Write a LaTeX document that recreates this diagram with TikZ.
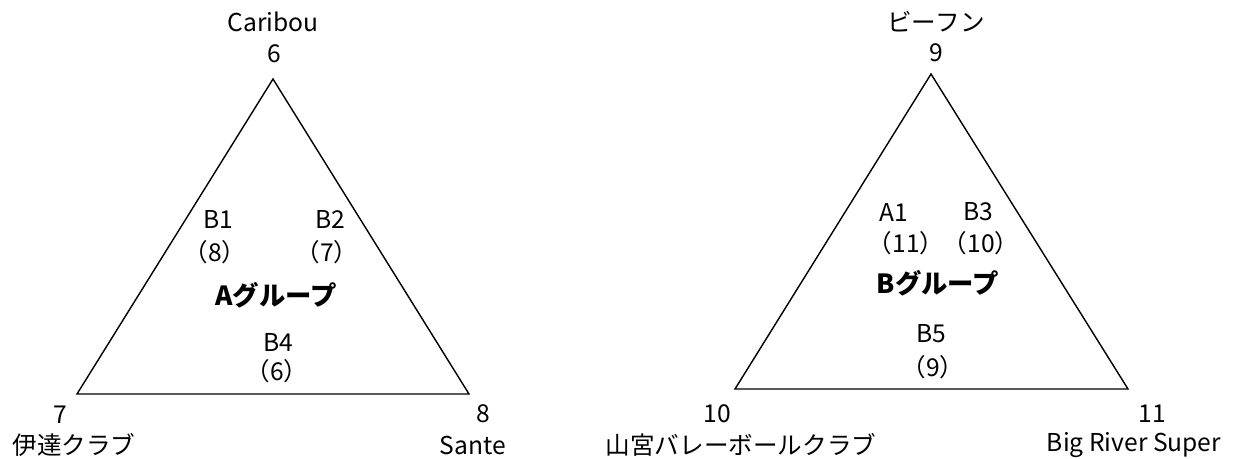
\documentclass[tikz,border=0pt]{standalone}
\usepackage{fontspec}
\setmainfont{Noto Sans CJK JP}
\begin{document}
\begin{tikzpicture}[x=0.02cm,y=-0.02cm,
    lbl/.style={font=\fontsize{14}{16}\selectfont,inner sep=0pt},
    grp/.style={font=\fontsize{15}{17}\selectfont\bfseries,inner sep=0pt},
    side/.style={line width=0.8pt,line join=miter}]
      \useasboundingbox (0,0) rectangle (1250,459);
      % A group
      \coordinate (atop) at (273,79);
      \coordinate (aleft) at (77,394);
      \coordinate (aright) at (469,394);
      \draw[side] (atop) -- (aleft) -- (aright) -- cycle;
      \node[lbl] (caribou) at (273,22) {Caribou};
      \node[lbl] (caribouno) at (274,54) {6};
      \node[lbl] (date) at (74,445) {伊達クラブ};
      \node[lbl] (dateno) at (60,415) {7};
      \node[lbl] (sante) at (473,445) {Sante};
      \node[lbl] (santeno) at (483,414) {8};
      \node[lbl] (bone) at (218,219) {B1};
      \node[lbl] (boneno) at (215,252) {（8）};
      \node[lbl] (btwo) at (330,219) {B2};
      \node[lbl] (btwono) at (327,252) {（7）};
      \node[grp] (agroup) at (276,295) {Aグループ};
      \node[lbl] (bfour) at (278,342) {B4};
      \node[lbl] (bfourno) at (277,371) {（6）};
      % B group
      \coordinate (btop) at (931,74);
      \coordinate (bleft) at (735,389);
      \coordinate (bright) at (1128,389);
      \draw[side] (btop) -- (bleft) -- (bright) -- cycle;
      \node[lbl] (beefun) at (936,22) {ビーフン};
      \node[lbl] (beefunno) at (936,53) {9};
      \node[lbl] (yamamiya) at (741,445) {山宮バレーボールクラブ};
      \node[lbl] (yamamiyano) at (717,414) {10};
      \node[lbl] (bigriver) at (1134,445) {Big River Super};
      \node[lbl] (bigriverno) at (1152,414) {11};
      \node[lbl] (aone) at (894,212) {A1};
      \node[lbl] (aoneno) at (906,243) {（11）};
      \node[lbl] (bthree) at (978,212) {B3};
      \node[lbl] (bthreeno) at (981,243) {（10）};
      \node[grp] (bgroup) at (938,283) {Bグループ};
      \node[lbl] (bfive) at (931,334) {B5};
      \node[lbl] (bfiveno) at (933,367) {（9）};
\end{tikzpicture}
\end{document}
